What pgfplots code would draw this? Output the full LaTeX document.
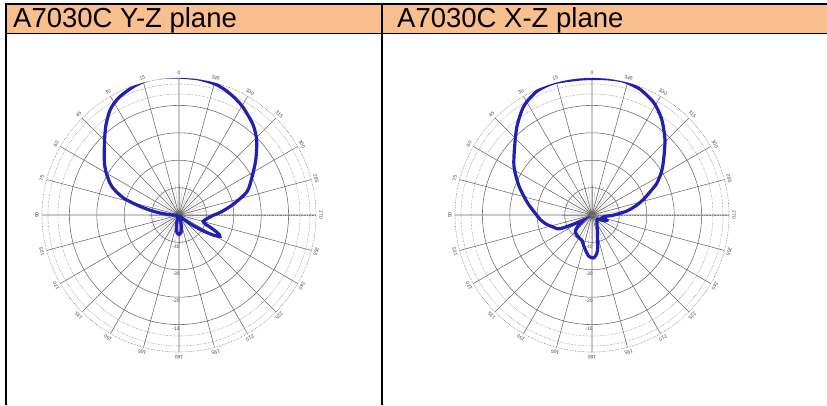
\documentclass[border=0pt]{standalone}
\usepackage{fontspec}
\setmainfont{Liberation Sans}
\usepackage{pgfplots}
\usepackage{pgfplotstable}
\usepgfplotslibrary{polar}
\pgfplotsset{compat=1.18}

\definecolor{hdr}{HTML}{FABF8F}
\definecolor{lobe}{RGB}{32,32,178}
\definecolor{gridc}{RGB}{105,105,105}

% angle (0 at top, counter-clockwise) and radius (px)
\pgfplotstableread{
a r
0 138
6 138.5
12 139
19 136.5
27 132
33 126
39 116
44 107
49 99
55 91
60 84
67 73
73 58
77.5 40
81 28
84 19
88 10
92 4
100 2
130 2
158 3
164 8
169 14
174 18
180 19.5
186 18
191 13
196 6
202 2
222 2
228 7
233 17
237 30
240 41
242.5 46
245 43
248 35
251 28
255 25
260 27
265 30
270 35
274 42
281 55
289 72
298 83
306 95
314 108
320 116
325 121
330 126
335 130
340 133.5
345 136
352 137.5
360 138
}\yz

\pgfplotstableread{
a r
0 136.6
6 136.5
16 137.5
24 135.5
32 128.5
40 116.5
48 104
58 92
68 79
79 66
88 57
95 52
102 46
108 40
112 37
114 32
116 22
118 14
121 9
125 13
129 19
136 24
149 26
159 27.5
165 32
175 41
182 43
187 39
190 33
193 25
200 16
207 11
214 9
225 7
235 7
241 10
245 14
250 15.5
254 14
258 11
262 12
266 15
270 22
276.5 35
282 45
287 54
292 63
296 72
302 82
308 91
316 105
324 118.5
331 128
339 134.5
347 137.5
354 137
360 136.6
}\xz

\pgfplotsset{
  pattern/.style={
    anchor=center, scale only axis, width=274pt, height=274pt,
    ymin=0, ymax=137,
    xtick={0,15,...,345}, xticklabels={},
    ytick={27.4,54.8,82.2,109.6}, yticklabels={},
    minor ytick={121,131},
    grid=both,
    major grid style={gridc, line width=0.55pt},
    minor grid style={gridc!85, densely dotted, line width=0.6pt},
    axis line style={gridc!85, densely dotted, line width=0.6pt},
    major tick length=0pt, minor tick length=0pt,
  },
}

\begin{document}
\begin{tikzpicture}[x=1pt,y=1pt]
\useasboundingbox (0,0) rectangle (827,405);
% table frame
\fill[hdr] (6,371.5) rectangle (827,400);
\draw[line width=2pt] (5,401) -- (827,401);
\draw[line width=1.2pt] (6,371.5) -- (827,371.5);
\draw[line width=1.6pt] (6,402) -- (6,0);
\draw[line width=1.6pt] (382,402) -- (382,0);
\node[anchor=base west, inner sep=0pt, font=\fontsize{27.5}{30}\selectfont] at (13,377) {A7030C Y-Z plane};
\node[anchor=base west, inner sep=0pt, font=\fontsize{27.5}{30}\selectfont] at (397,377) {A7030C X-Z plane};

% fine spokes near the centre and angle labels
\foreach \cx in {179,592}{
  \foreach \a in {0,7.5,...,352.5}{
    \draw[gridc!50, line width=0.3pt] (\cx,190) -- ++(\a:30);
  }
  \foreach \a in {0,15,...,345}{
    \node[gridc!70!black, font=\fontsize{5}{5}\selectfont, inner sep=0pt, rotate=\a]
      at ([shift={(\cx,190)}]\a+90:142) {\a};
  }
  \foreach \r/\t in {27.4/-40,54.8/-30,82.2/-20,109.6/-10}{
    \node[gridc!70!black, font=\fontsize{5}{5}\selectfont, inner sep=0.5pt, fill=white]
      at (\cx-3,190-\r-4) {\t};
  }
}

\begin{polaraxis}[pattern, at={(179,190)}]
\addplot[lobe, line width=3.2pt, smooth, tension=0.45] table[x expr=\thisrow{a}+90, y=r] {\yz};
\end{polaraxis}

\begin{polaraxis}[pattern, at={(592,190)}]
\addplot[lobe, line width=3.2pt, smooth, tension=0.45] table[x expr=\thisrow{a}+90, y=r] {\xz};
\end{polaraxis}
\end{tikzpicture}
\end{document}
